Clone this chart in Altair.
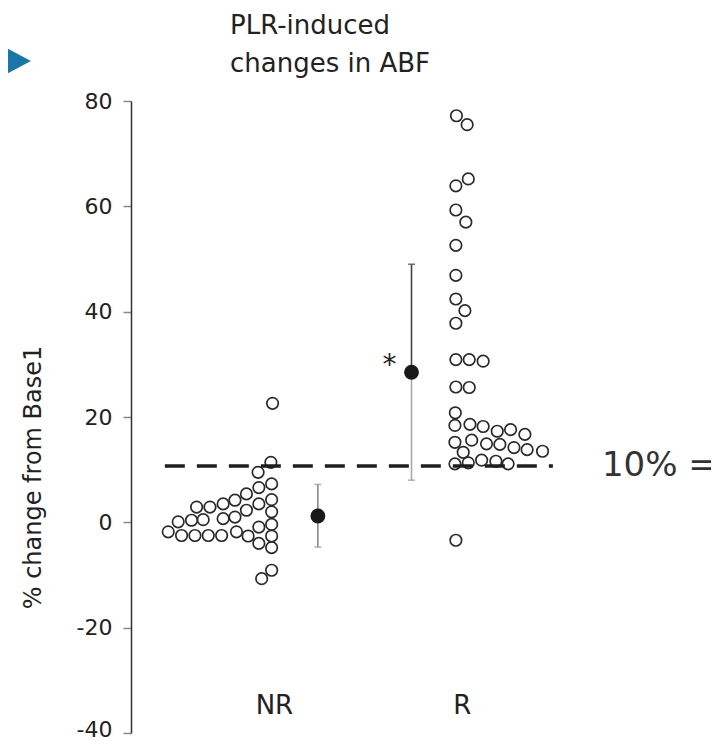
import altair as alt
import pandas as pd

# ---------------- data ----------------
groups = ["NR", "R"]
group_pos = [1, 2]

# NR responders: value (% change) and horizontal swarm jitter (in group units)
nr_values = [22.6, 11.4, 9.5,
             7.3, 4.3, 2.0, -0.4, -2.6, -4.8,
             6.6, 3.5, -0.9, -4.0,
             5.4, 2.3, -2.6,
             4.2, 1.0, -1.8,
             3.5, 0.7, -2.5,
             2.9, 0.5, -2.5,
             2.9, 0.4, -2.5,
             0.1, -2.5,
             -1.8,
             -9.1, -10.7]
nr_jitter = [-0.007, -0.016, -0.084,
             -0.012, -0.012, -0.012, -0.012, -0.012, -0.012,
             -0.080, -0.080, -0.080, -0.080,
             -0.146, -0.146, -0.137,
             -0.207, -0.207, -0.199,
             -0.270, -0.270, -0.278,
             -0.340, -0.376, -0.349,
             -0.411, -0.438, -0.420,
             -0.509, -0.491,
             -0.562,
             -0.012, -0.065]

r_values = [77.2, 75.5, 65.2, 63.9, 59.3, 57.0, 52.6, 46.9,
            42.4, 40.2, 37.8, 30.9, 30.9, 30.6, 25.7, 25.6, 20.8,
            18.4, 18.6, 18.2, 17.3, 17.6, 16.7,
            15.2, 15.6, 14.9, 14.8, 14.2, 13.8, 13.5,
            13.3,
            11.1, 11.3, 11.8, 11.6, 11.1,
            -3.4]
r_jitter = [-0.029, 0.028, 0.034, -0.032, -0.032, 0.021, -0.032, -0.032,
            -0.032, 0.016, -0.032, -0.032, 0.039, 0.113, -0.032, 0.039, -0.035,
            -0.037, 0.043, 0.113, 0.188, 0.259, 0.335,
            -0.037, 0.052, 0.131, 0.202, 0.277, 0.347, 0.429,
            0.007,
            -0.037, 0.034, 0.105, 0.181, 0.246,
            -0.032]

# group summaries (mean and error bar ends)
mean_values = [1.2, 28.5]
mean_offset = [0.234, -0.268]
err_low = [-4.7, 8.0]
err_high = [7.2, 49.0]
significance = ["", "*"]

threshold = 10.7
threshold_start = 0.42
threshold_end = 2.484
threshold_label = "10% ="

title_lines = ["PLR-induced", "changes in ABF"]
y_title = "% change from Base1"
y_ticks = [-40, -20, 0, 20, 40, 60, 80]

# ---------------- tables ----------------
pts = pd.DataFrame({
    "group": ["NR"] * len(nr_values) + ["R"] * len(r_values),
    "value": nr_values + r_values,
    "x": [group_pos[0] + j for j in nr_jitter] + [group_pos[1] + j for j in r_jitter],
})

summary = pd.DataFrame({
    "group": groups,
    "x": [p + o for p, o in zip(group_pos, mean_offset)],
    "mean": mean_values,
    "lo": err_low,
    "hi": err_high,
    "sig": significance,
})

caps = pd.DataFrame({
    "group": groups * 2,
    "x": list(summary["x"]) * 2,
    "y": err_low + err_high,
    "end": ["lo"] * 2 + ["hi"] * 2,
})

thr = pd.DataFrame({"x": [threshold_start], "x2": [threshold_end], "y": [threshold],
                    "label": [threshold_label]})

FONT = "DejaVu Sans"
label_expr = " : ".join(
    [f"datum.value == {p} ? '{n}'" for p, n in zip(group_pos[:-1], groups[:-1])]
) + f" : '{groups[-1]}'"

xscale = alt.Scale(domain=[0.24, 3.325], nice=False, zero=False)
yscale = alt.Scale(domain=[-40, 80], nice=False, zero=False)

x_axis = alt.Axis(values=group_pos, labelExpr=label_expr, domain=False, ticks=False,
                  grid=False, title=None, labelFont=FONT, labelFontSize=26,
                  labelColor="#222", labelPadding=0, offset=-41, labelBaseline="top")
y_axis = alt.Axis(values=y_ticks, grid=False, title=y_title, domainColor="#333",
                  domainWidth=1.5, tickColor="#888", tickSize=8, tickWidth=1.5,
                  labelExpr="datum.value < 0 ? '-' + abs(datum.value) : datum.label",
                  labelOffset={"condition": {"test": f"datum.value == {min(y_ticks)}",
                                             "value": -4}, "value": 0},
                  labelFont=FONT, labelFontSize=22, labelColor="#222", labelPadding=11,
                  titleFont=FONT, titleFontSize=24, titleFontWeight="normal",
                  titleColor="#222", titleAngle=270, titleX=-98, titleY=376,
                  titleAlign="center", titleBaseline="middle")


def X(field):
    return alt.X(field, type="quantitative", scale=xscale, axis=x_axis)


def Y(field):
    return alt.Y(field, type="quantitative", scale=yscale, axis=y_axis)


points = alt.Chart(pts).mark_point(filled=False, shape="circle", size=132,
                                   stroke="#2a2a2a", strokeWidth=1.7, opacity=1).encode(
    x=X("x"), y=Y("value"),
)

dashed = alt.Chart(thr).mark_rule(color="#1e1e1e", strokeWidth=3.5,
                                  strokeDash=[20, 12]).encode(
    x=X("x"), x2="x2:Q", y=Y("y"),
)

thr_text = alt.Chart(thr).mark_text(align="left", baseline="middle", font=FONT,
                                    fontSize=34, color="#333", dx=49).encode(
    x=X("x2"), y=Y("y"), text="label:N",
)

err_upper = alt.Chart(summary).mark_rule(strokeWidth=1.6).encode(
    x=X("x"), y=Y("mean"), y2="hi:Q",
    color=alt.condition(alt.datum.group == "R", alt.value("#444"), alt.value("#888")),
)
err_lower = alt.Chart(summary).mark_rule(strokeWidth=1.6).encode(
    x=X("x"), y=Y("lo"), y2="mean:Q",
    color=alt.condition(alt.datum.group == "R", alt.value("#aaa"), alt.value("#888")),
)
err_caps = alt.Chart(caps).mark_tick(orient="horizontal", size=7, thickness=1.6).encode(
    x=X("x"), y=Y("y"),
    color=alt.condition((alt.datum.group == "R") & (alt.datum.end == "hi"),
                        alt.value("#444"), alt.value("#999")),
)
means = alt.Chart(summary).mark_point(filled=True, shape="circle", size=220,
                                      color="#1a1a1a", opacity=1).encode(
    x=X("x"), y=Y("mean"),
)
stars = alt.Chart(summary).mark_text(align="center", baseline="alphabetic", font=FONT,
                                     fontSize=28, color="#222", dx=-22, dy=2).encode(
    x=X("x"), y=Y("mean"), text="sig:N",
)

# decorative blue pointer at the top-left corner
pointer = alt.Chart(pd.DataFrame({"k": [0]})).mark_point(
    shape="M-0.94,-1L0.94,0L-0.94,1Z", filled=True, size=2380, color="#1a76a6",
    opacity=1).encode(x=alt.value(-123), y=alt.value(-40))

chart = alt.layer(
    points, dashed, thr_text, err_upper, err_lower, err_caps, means, stars, pointer,
).properties(
    width=580, height=632,
    title=alt.TitleParams(text=title_lines, anchor="start", frame="group", dx=99, dy=52,
                          font=FONT, fontSize=26, fontWeight="normal", color="#222",
                          lineHeight=38, offset=12),
    autosize=alt.AutoSizeParams(type="none"),
    padding={"left": 123, "top": 93, "right": 0, "bottom": 5},
).configure_view(stroke=None)

chart.save("out.html", embed_options={"renderer": "svg", "actions": False})
